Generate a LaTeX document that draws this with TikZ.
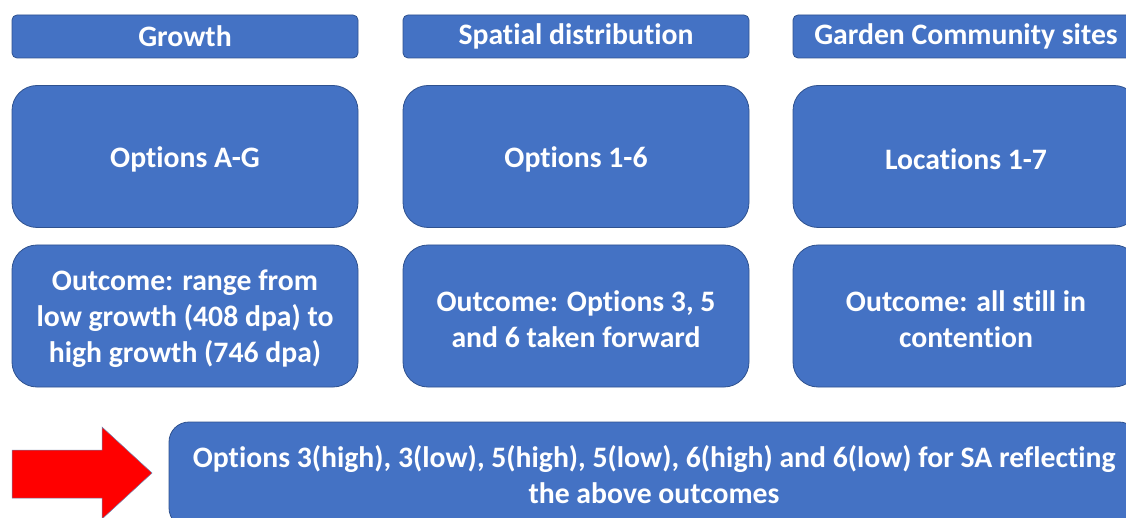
\documentclass[tikz,border=0pt]{standalone}
\usepackage{fontspec}
\setmainfont{Carlito}[RawFeature={-liga;-clig;-calt}]
\usetikzlibrary{positioning}

\definecolor{boxblue}{HTML}{4472C4}
\definecolor{boxedge}{HTML}{2F528F}
\newcommand\tup{\rule{0pt}{27pt}}
\tikzset{
  panel/.style={draw=boxedge,fill=boxblue,line width=0.8pt,text=white,
    font=\fontsize{29.7}{36}\selectfont\bfseries,align=center,inner sep=0pt},
  head/.style={panel,rounded corners=5pt,minimum width=346pt,minimum height=43pt},
  tile/.style={panel,rounded corners=25pt,minimum width=346pt,minimum height=142pt}
}

\begin{document}
\begin{tikzpicture}[x=1pt,y=-1pt]
\useasboundingbox (0,0) rectangle (1126,518);
\clip (0,0) rectangle (1126,518);
\node [head] (growth) at (185,36.5) {Growth};
\node [head] (spatial) at (576,36.5) {Spatial distribution};
\node [head] (garden) at (966,36.5) {Garden Community sites};
\node [tile] (optsG) at (185,156.5) {\tup Options A-G};
\node [tile] (optsS) at (576,156.5) {\tup Options 1-6};
\node [tile] (optsC) at (966,156.5) {\tup Locations 1-7};
\node [tile] (outG) at (185,316) {\tup Outcome: range from\\low growth (408 dpa) to\\high growth (746 dpa)};
\node [tile] (outS) at (576,316) {\tup Outcome: Options 3, 5\\and 6 taken forward};
\node [tile] (outC) at (966,316) {\tup Outcome: all still in\\contention};
\node [panel,rounded corners=20pt,minimum width=970pt,minimum height=106pt] (result) at (654,475)
  {Options 3(high), 3(low), 5(high), 5(low), 6(high) and 6(low) for SA reflecting\\the above outcomes};
%\draw [fill=red] ...
\draw [fill=red,draw=boxedge!70,line width=0.5pt] (12,450) -- (102,450) -- (102,427) -- (152,473)
  -- (102,519) -- (102,498) -- (12,498) -- cycle;
\end{tikzpicture}
\end{document}
